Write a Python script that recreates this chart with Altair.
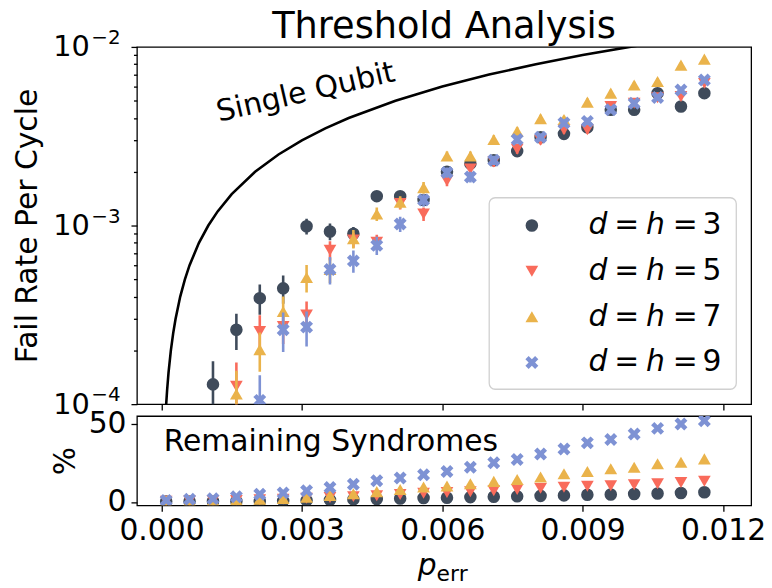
import altair as alt
import pandas as pd

# ---------------- data ----------------
p_vals = [0.0001, 0.0006, 0.0011, 0.0016, 0.0021, 0.0026, 0.0031, 0.0036,
          0.0041, 0.0046, 0.0051, 0.0056, 0.0061, 0.0066, 0.0071, 0.0076,
          0.0081, 0.0086, 0.0091, 0.0096, 0.0101, 0.0106, 0.0111, 0.0116]

series_names = ["d = h = 3", "d = h = 5", "d = h = 7", "d = h = 9"]
series_nums = ["3", "5", "7", "9"]
series_colors = ["#3f4b5b", "#f96b5b", "#eab34b", "#7e92d4"]

# fail rate per cycle (None = below the plotted range)
rate_d3 = [None, None, 1.29e-4, 2.61e-4, 3.92e-4, 4.45e-4, 9.9e-4, 9.26e-4,
           9.0e-4, 1.46e-3, 1.46e-3, 1.39e-3, 2.0e-3, 2.22e-3, 2.32e-3, 2.61e-3,
           3.12e-3, 3.26e-3, 3.55e-3, 4.45e-3, 4.45e-3, 5.51e-3, 4.64e-3, 5.51e-3]
rate_d5 = [None, None, None, 1.26e-4, 2.55e-4, 2.72e-4, 3.16e-4, 7.27e-4,
           8.3e-4, 8.07e-4, 1.33e-3, 1.16e-3, 1.78e-3, 2.07e-3, 2.27e-3, 2.67e-3,
           3.0e-3, 3.44e-3, 3.44e-3, 4.64e-3, 4.84e-3, 5.2e-3, 5.28e-3, 6.25e-3]
rate_d7 = [None, None, None, 1.14e-4, 2.02e-4, 3.3e-4, 5.12e-4, 5.67e-4,
           8.43e-4, 1.16e-3, 1.35e-3, 1.63e-3, 2.45e-3, 2.45e-3, 3.03e-3, 3.37e-3,
           3.97e-3, 3.92e-3, 4.91e-3, 5.51e-3, 6.12e-3, 6.4e-3, 7.91e-3, 8.54e-3]
rate_d9 = [None, None, None, None, 1.05e-4, 2.61e-4, 2.7e-4, 5.67e-4,
           6.34e-4, 7.74e-4, 1.02e-3, 1.39e-3, 1.98e-3, 1.87e-3, 2.32e-3, 3.03e-3,
           3.12e-3, 3.75e-3, 3.83e-3, 4.45e-3, 4.84e-3, 5.21e-3, 5.74e-3, 6.53e-3]

err_d3 = [None, None, 0.45e-4, 0.6e-4, 0.75e-4, 0.8e-4, 1.0e-4, 1.0e-4,
          0.8e-4, 1.0e-4, 1.0e-4, 1.0e-4, 1.2e-4, 1.3e-4, 1.3e-4, 1.4e-4,
          1.5e-4, 1.6e-4, 1.7e-4, 1.9e-4, 1.9e-4, 2.1e-4, 2.0e-4, 2.2e-4]
err_d5 = [None, None, None, 0.45e-4, 0.6e-4, 0.55e-4, 0.6e-4, 0.9e-4,
          0.8e-4, 0.8e-4, 1.0e-4, 1.0e-4, 1.2e-4, 1.3e-4, 1.4e-4, 1.5e-4,
          1.6e-4, 1.7e-4, 1.7e-4, 2.0e-4, 2.1e-4, 2.2e-4, 2.2e-4, 2.5e-4]
err_d7 = [None, None, None, 0.4e-4, 0.5e-4, 0.7e-4, 0.9e-4, 0.9e-4,
          1.0e-4, 1.0e-4, 1.1e-4, 1.2e-4, 1.5e-4, 1.5e-4, 1.7e-4, 1.8e-4,
          2.0e-4, 2.0e-4, 2.3e-4, 2.5e-4, 2.6e-4, 2.7e-4, 3.0e-4, 3.2e-4]
err_d9 = [None, None, None, None, 0.4e-4, 0.65e-4, 0.6e-4, 1.0e-4,
          0.9e-4, 0.9e-4, 1.0e-4, 1.1e-4, 1.3e-4, 1.3e-4, 1.4e-4, 1.6e-4,
          1.6e-4, 1.8e-4, 1.8e-4, 2.0e-4, 2.1e-4, 2.2e-4, 2.3e-4, 2.5e-4]

# remaining syndromes (%)
pct_d3 = [0.3, 0.3, 0.4, 0.4, 0.5, 0.7, 1.0, 1.3, 1.6, 1.9, 2.2, 2.5,
          2.7, 3.1, 3.3, 3.6, 3.9, 4.2, 4.6, 4.8, 5.1, 5.4, 5.7, 6.2]
pct_d5 = [0.5, 0.6, 0.8, 1.0, 1.4, 1.8, 2.3, 2.9, 3.4, 4.0, 4.7, 5.5,
          6.0, 6.5, 7.2, 8.0, 8.7, 9.4, 10.0, 10.4, 11.0, 11.7, 12.5, 13.2]
pct_d7 = [0.6, 0.8, 1.0, 1.3, 1.7, 2.2, 3.0, 4.2, 5.2, 6.6, 8.0, 9.6,
          10.2, 11.7, 13.2, 14.4, 16.0, 18.1, 19.5, 21.3, 22.3, 24.5, 25.5, 27.6]
pct_d9 = [1.0, 1.7, 2.1, 3.3, 4.9, 5.8, 7.2, 9.3, 11.3, 13.6, 15.3, 17.4,
          19.5, 22.3, 25.1, 27.2, 30.8, 34.0, 37.9, 40.0, 43.6, 47.2, 50.0, 52.1]

# single-qubit reference curve
sq_p = [0.00008, 0.0001, 0.00012, 0.00015, 0.0002, 0.00025, 0.0003, 0.0004,
        0.0005, 0.0006, 0.0008, 0.001, 0.0012, 0.0015, 0.002, 0.0025, 0.003,
        0.0035, 0.004, 0.005, 0.006, 0.007, 0.008, 0.009, 0.01, 0.011]
sq_rate = [0.00008, 0.0001, 0.00012, 0.00015, 0.0002, 0.00025, 0.0003, 0.0004,
           0.0005, 0.0006, 0.0008, 0.001, 0.0012, 0.0015, 0.002, 0.0025, 0.003,
           0.0035, 0.004, 0.005, 0.006, 0.007, 0.008, 0.009, 0.01, 0.011]

x_ticks = [0.0, 0.003, 0.006, 0.009, 0.012]
y_ticks_top = [1e-4, 2e-4, 3e-4, 4e-4, 5e-4, 6e-4, 7e-4, 8e-4, 9e-4,
               1e-3, 2e-3, 3e-3, 4e-3, 5e-3, 6e-3, 7e-3, 8e-3, 9e-3, 1e-2]
y_major = [1e-4, 1e-3, 1e-2]
y_major_exp = ["\u22124", "\u22123", "\u22122"]
y_ticks_bot = [0, 50]

title_text = "Threshold Analysis"
ylabel_top = "Fail Rate Per Cycle"
ylabel_bot = "%"
sq_label = "Single Qubit"
rs_label = "Remaining Syndromes"

# ---------------- tables ----------------
rates = [rate_d3, rate_d5, rate_d7, rate_d9]
errs = [err_d3, err_d5, err_d7, err_d9]
pcts = [pct_d3, pct_d5, pct_d7, pct_d9]

top_rows = []
bot_rows = []
for s, name in enumerate(series_names):
    for i, p in enumerate(p_vals):
        r = rates[s][i]
        if r is not None:
            e = errs[s][i]
            top_rows.append({"p": p, "series": name, "rate": r,
                             "lo": r - e, "hi": r + e})
        bot_rows.append({"p": p, "series": name, "pct": pcts[s][i]})
df_top = pd.DataFrame(top_rows)
df_bot = pd.DataFrame(bot_rows)
df_sq = pd.DataFrame({"p": sq_p, "rate": sq_rate})
df_leg = pd.DataFrame({"series": series_names, "dvar": ["d"] * 4,
                       "eq": ["="] * 4, "hvar": ["h"] * 4, "num": series_nums})
df_exp = pd.DataFrame({"rate": y_major, "exp": y_major_exp})

FONT = "DejaVu Sans"
X_PATH = ("M-1,-0.5 L-0.5,-1 L0,-0.5 L0.5,-1 L1,-0.5 L0.5,0 "
          "L1,0.5 L0.5,1 L0,0.5 L-0.5,1 L-1,0.5 L-0.5,0 Z")

color_enc = alt.Color("series:N", scale=alt.Scale(domain=series_names,
                                                  range=series_colors), legend=None)
shape_enc = alt.Shape("series:N", scale=alt.Scale(
    domain=series_names,
    range=["circle", "triangle-down", "triangle-up", X_PATH]), legend=None)
size_enc = alt.Size("series:N", scale=alt.Scale(domain=series_names,
                                                range=[160, 170, 170, 150]), legend=None)

x_dom = [-0.000525, 0.0126]
y_scale_top = alt.Scale(type="log", domain=[1e-4, 1e-2], nice=False)

x_top = alt.X("p:Q", scale=alt.Scale(domain=x_dom, nice=False, zero=False),
              axis=alt.Axis(values=x_ticks, labels=False, title=None,
                            tickSize=6, tickWidth=1.3))
y_top = alt.Y("rate:Q", scale=y_scale_top,
              axis=alt.Axis(
                  values=y_ticks_top, title=ylabel_top, titlePadding=10,
                  labelExpr=("datum.value == 0.0001 || datum.value == 0.001 || "
                             "datum.value == 0.01 ? '10' : ''"),
                  labelOverlap=False, labelFontSize=29, labelPadding=42,
                  tickWidth=1.3,
                  tickSize={"condition": {
                      "test": "datum.value == 0.0001 || datum.value == 0.001 || datum.value == 0.01",
                      "value": 6}, "value": 3.5}))

data_layers = [
    alt.Chart(df_sq).mark_line(color="black", strokeWidth=2.6, clip=True).encode(
        x=x_top, y=y_top)
]
for name in series_names:
    base = alt.Chart(df_top).transform_filter(alt.datum.series == name)
    data_layers.append(base.mark_rule(strokeWidth=2.6, clip=True).encode(
        x=x_top, y=alt.Y("lo:Q", scale=y_scale_top), y2="hi:Q", color=color_enc))
    data_layers.append(base.mark_point(filled=True, opacity=1, clip=True).encode(
        x=x_top, y=y_top, color=color_enc, shape=shape_enc, size=size_enc))

# superscript exponents of the log tick labels
data_layers.append(alt.Chart(df_exp).mark_text(
    font=FONT, fontSize=20, align="left", baseline="middle", color="black",
    dy=-9).encode(x=alt.value(-46), y=alt.Y("rate:Q", scale=y_scale_top),
                  text="exp:N"))

sq_text = alt.Chart(alt.Data(values=[{"t": sq_label}])).mark_text(
    font=FONT, fontSize=30, angle=347, align="center", baseline="middle",
    color="black").encode(text="t:N", x=alt.value(170), y=alt.value(46))
data_layers.append(sq_text)

# custom legend
leg_y = alt.Y("series:N", scale=alt.Scale(type="point", domain=series_names,
                                          range=[180, 318], padding=0), axis=None)
leg_box = alt.Chart(alt.Data(values=[{}])).mark_rect(
    fill="white", fillOpacity=0.85, stroke="#d0d0d0", strokeWidth=1.3,
    cornerRadius=6).encode(x=alt.value(355), x2=alt.value(604),
                           y=alt.value(152), y2=alt.value(345))
leg_sym = alt.Chart(df_leg).mark_point(filled=True, opacity=1).encode(
    x=alt.value(398), y=leg_y, color=color_enc, shape=shape_enc, size=size_enc)


def leg_txt(field, xpos, italic):
    kw = dict(font=FONT, fontSize=30, align="left", baseline="middle", color="black")
    if italic:
        kw["fontStyle"] = "italic"
    return alt.Chart(df_leg).mark_text(**kw).encode(
        x=alt.value(xpos), y=leg_y, text=f"{field}:N")


legend_layer = alt.layer(
    leg_box, leg_sym,
    leg_txt("dvar", 455, True), leg_txt("eq", 481, False),
    leg_txt("hvar", 513, True), leg_txt("eq", 540, False),
    leg_txt("num", 570, False))

top = alt.layer(alt.layer(*data_layers), legend_layer).resolve_scale(
    y="independent").properties(
    width=619, height=360,
    title=alt.TitleParams(title_text, font=FONT, fontSize=37, fontWeight="normal",
                          anchor="middle", frame="group", offset=-18, color="black"))

# ---------------- bottom panel ----------------
x_bot = alt.X("p:Q", scale=alt.Scale(domain=x_dom, nice=False, zero=False),
              axis=alt.Axis(values=x_ticks, format=".3f", title=None,
                            labelFontSize=30, labelPadding=4, tickSize=6,
                            tickWidth=1.3, labelFlush=False))
y_bot = alt.Y("pct:Q", scale=alt.Scale(domain=[-2.2, 55.1], nice=False, zero=False),
              axis=alt.Axis(values=y_ticks_bot, title=ylabel_bot, titlePadding=8,
                            labelFontSize=30, labelPadding=5, tickSize=6, tickWidth=1.3))

bot_layers = []
for name in series_names:
    bot_layers.append(alt.Chart(df_bot).transform_filter(alt.datum.series == name)
                      .mark_point(filled=True, opacity=1, clip=True)
                      .encode(x=x_bot, y=y_bot, color=color_enc, shape=shape_enc,
                              size=size_enc))
bot_layers.append(alt.Chart(alt.Data(values=[{"t": rs_label}])).mark_text(
    font=FONT, fontSize=30, align="left", baseline="alphabetic", color="black").encode(
    text="t:N", x=alt.value(27), y=alt.value(35)))
bot_layers.append(alt.Chart(alt.Data(values=[{"t": "p"}])).mark_text(
    font=FONT, fontSize=30, fontStyle="italic", align="left", baseline="alphabetic",
    color="black").encode(text="t:N", x=alt.value(283), y=alt.value(160)))
bot_layers.append(alt.Chart(alt.Data(values=[{"t": "err"}])).mark_text(
    font=FONT, fontSize=22, align="left", baseline="alphabetic",
    color="black").encode(text="t:N", x=alt.value(302), y=alt.value(166)))

bottom = alt.layer(*bot_layers).properties(width=619, height=90)

chart = alt.vconcat(top, bottom, spacing=12, bounds="flush").properties(
    padding={"left": 12, "top": 5, "right": 5, "bottom": 0}
).configure_view(stroke="black", strokeWidth=1.3).configure_axis(
    domain=False, grid=False, labelFont=FONT, titleFont=FONT, labelColor="black",
    titleColor="black", tickColor="black", titleFontSize=30, titleFontWeight="normal"
)

chart.save("out.html", embed_options={"renderer": "svg", "actions": False})
